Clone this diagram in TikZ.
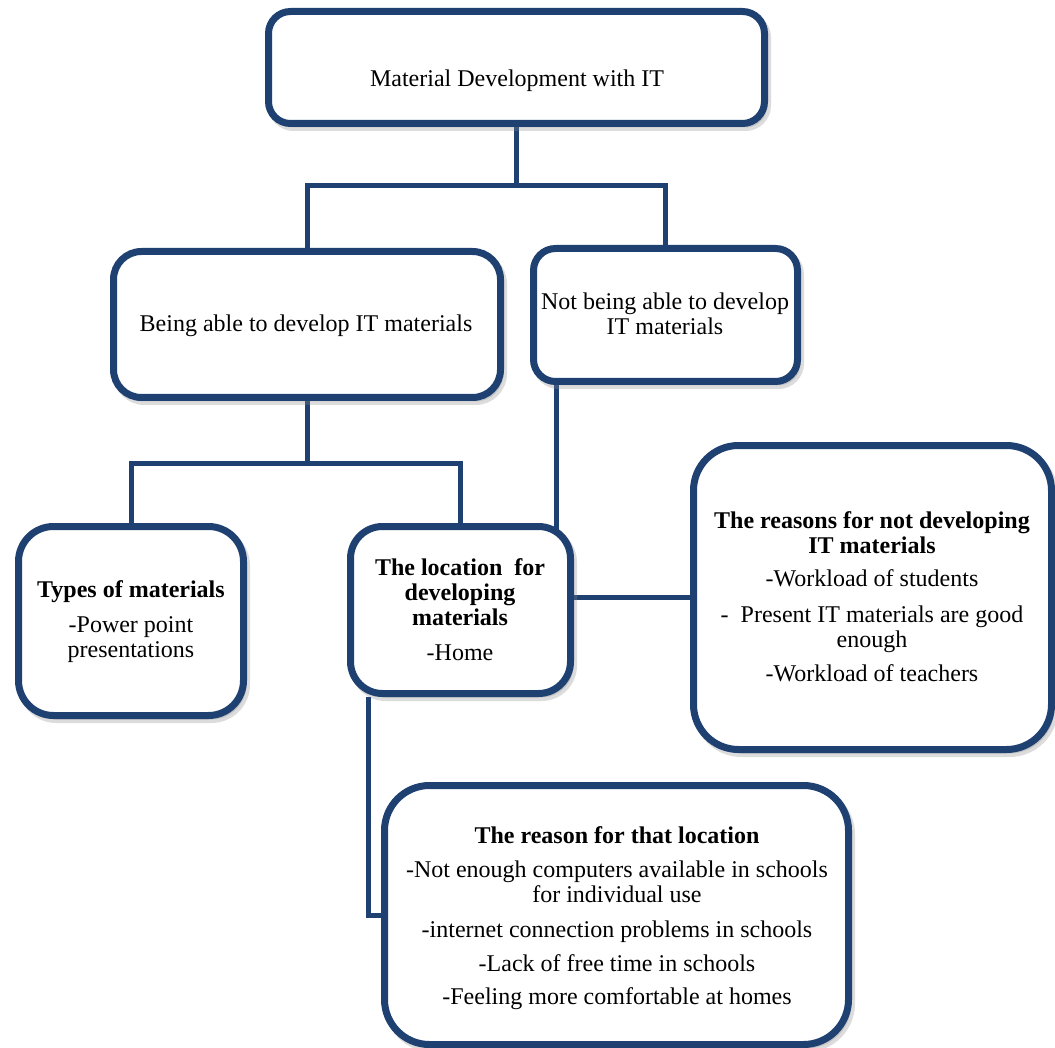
\documentclass[tikz,border=0pt]{standalone}
\usepackage{fontspec}
\setmainfont{Liberation Serif}
\usetikzlibrary{shadows,calc}
\definecolor{navy}{RGB}{31,65,114}
\pgfdeclarelayer{background}
\pgfsetlayers{background,main}
\begin{document}
\begin{tikzpicture}[x=1pt,y=-1pt,
  box/.style={draw=navy, line width=7pt, fill=white, rounded corners=#1, inner sep=0pt,
    drop shadow={shadow xshift=3pt, shadow yshift=-4pt, fill=black!45, draw=black!45, line width=7pt, opacity=0.3}},
  txt/.style={align=center, font=\fontsize{24}{25}\selectfont, inner sep=0pt, anchor=base},
  conn/.style={draw=navy, line width=5pt}]
\useasboundingbox (0,0) rectangle (1055,1048);

% boxes (text nodes are placed by the baseline of their last line)
\node[box=22pt, minimum width=496pt, minimum height=112pt] (top) at (516.5,67.5) {};
\node[txt] (topT) at (517,87) {Material Development with IT};

\node[box=28pt, minimum width=387pt, minimum height=146pt] (able) at (307,324.5) {};
\node[txt] (ableT) at (306,332) {Being able to develop IT materials};

\node[box=22pt, minimum width=264pt, minimum height=133pt] (notable) at (665.5,315) {};
\node[txt] (notableT) at (665,335) {Not being able to develop\\IT materials};

\node[box=35pt, minimum width=225pt, minimum height=189pt] (types) at (131,621) {};
\node[txt] (typesT) at (131,657) {\textbf{Types of materials}\\[10pt]-Power point\\presentations};

\node[box=32pt, minimum width=220pt, minimum height=167pt] (loc) at (460.5,610) {};
\node[txt] (locT) at (460,660) {\textbf{The location\ \ for}\\\textbf{developing}\\\textbf{materials}\\[10pt]-Home};

\node[box=45pt, minimum width=358pt, minimum height=304pt] (why) at (872.5,597.5) {};
\node[txt] (whyT) at (872,681) {\textbf{The reasons for not developing}\\\textbf{IT materials}\\[8pt]-Workload of students\\[11pt]-\ \ Present IT materials are good\\enough\\[9pt]-Workload of teachers};

\node[box=45pt, minimum width=464pt, minimum height=259pt] (reason) at (616.5,915) {};
\node[txt] (reasonT) at (617,1004) {\textbf{The reason for that location}\\[9pt]-Not enough computers available in schools\\for individual use\\[10pt]-internet connection problems in schools\\[9pt]-Lack of free time in schools\\[8pt]-Feeling more comfortable at homes};

% connectors
\begin{pgfonlayer}{background}
\fill[white] (0,0) rectangle (1055,1048);
\coordinate (j1) at (516.5,186);
\coordinate (j2) at (307,463);
\draw[conn] (top.south) -- (j1);
\draw[conn] (j1) -| (able.north);
\draw[conn] (j1) -| (notable.north);
\draw[conn] (able.south) -- (j2);
\draw[conn] (j2) -| (types.north);
\draw[conn] (j2) -| (loc.north);
\draw[conn] ($(notable.south west)+(26.5,0)$) coordinate (n1) -- (n1 |- loc.center);
\draw[conn] (why.west) -- (why.west -| loc.center);
\draw[conn] ($(loc.south west)+(21.5,0)$) coordinate (n2) |- (reason.center);
\end{pgfonlayer}
\end{tikzpicture}
\end{document}
